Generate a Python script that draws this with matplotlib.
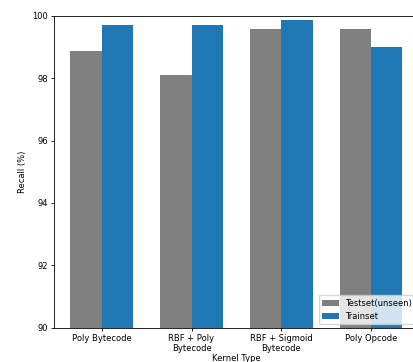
import matplotlib
matplotlib.use("Agg")
import matplotlib.pyplot as plt
import numpy as np

kernels = ["Poly Bytecode", "RBF + Poly\nBytecode", "RBF + Sigmoid\nBytecode", "Poly Opcode"]
testset = [98.86, 98.12, 99.59, 99.59]
trainset = [99.71, 99.71, 99.88, 98.99]

fs = 6.0
fig = plt.figure(figsize=(4.14, 3.62), dpi=100)
ax = fig.add_axes([0.130, 0.095, 0.882, 0.861])

x = np.arange(len(kernels))
w = 0.35
ax.bar(x, testset, w, color="grey", label="Testset(unseen)")
ax.bar(x + w, trainset, w, color="#1f77b4", label="Trainset")

ax.set_ylim(90, 100)
ax.set_xticks(x + w / 2)
ax.set_xticklabels(kernels)
ax.set_xlim(-0.36, 3.71)
ax.tick_params(labelsize=fs, length=2.3, width=0.6, pad=2)
ax.set_ylabel("Recall (%)", fontsize=fs, labelpad=4)
ax.set_xlabel("Kernel Type", fontsize=fs, labelpad=1)
for s in ax.spines.values():
    s.set_linewidth(0.6)
ax.legend(loc="lower right", fontsize=fs, borderaxespad=0.4)

fig.savefig("out.png")
